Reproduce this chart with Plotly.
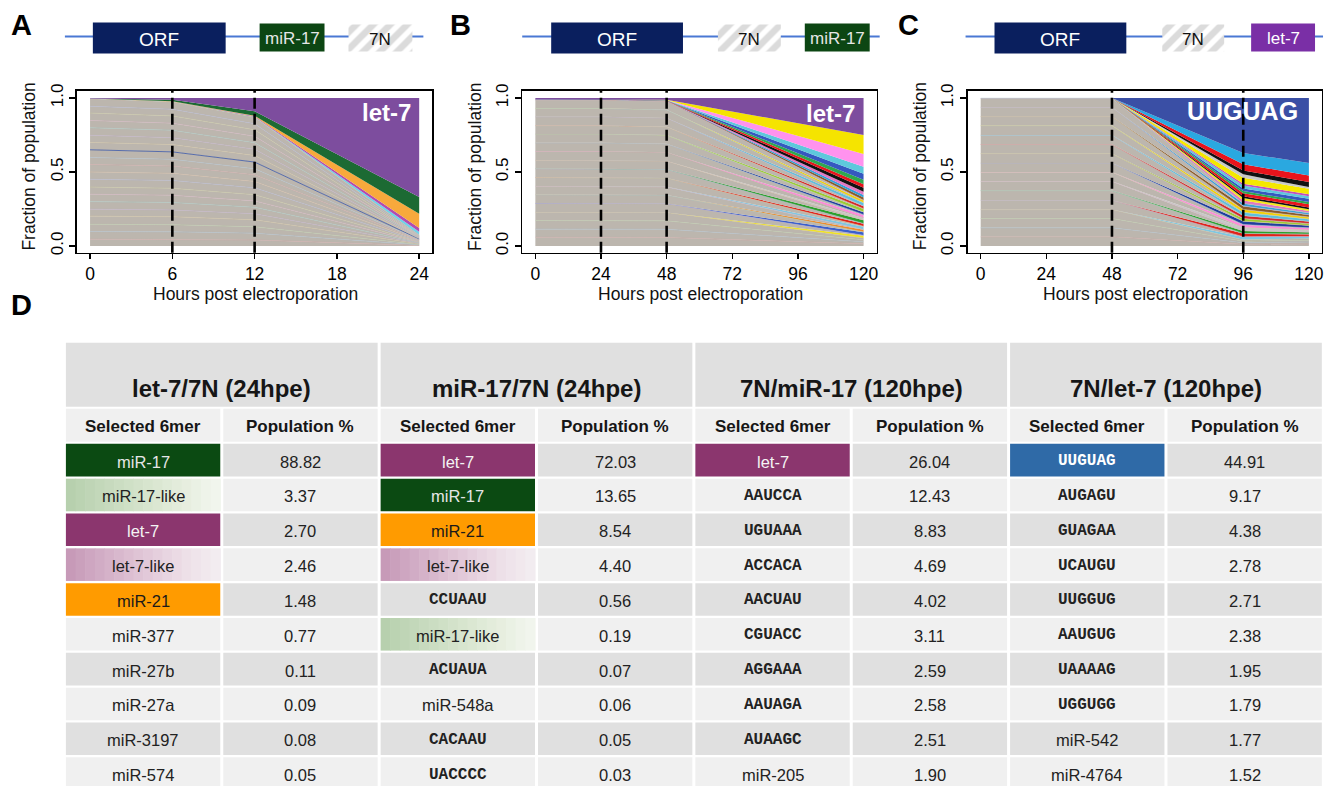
import plotly.graph_objects as go

W, H = 1339, 786
SANS = "Liberation Sans, Arial, Helvetica, sans-serif"
MONO = "Liberation Mono, Courier New, monospace"

# ============================ DATA ============================
# ---- Panel A (sampled 0, 6, 12, 24 h) ----
hours_A = [0, 6, 12, 24]
A_let7 = [0.004, 0.012, 0.090, 0.669]
A_mir17 = [0.000, 0.010, 0.030, 0.113]
A_mir21 = [0.000, 0.001, 0.004, 0.097]
A_let7_like = [0.000, 0.001, 0.002, 0.025]
A_minor = [0.001, 0.002, 0.004, 0.022]
A_background = [
    [0.046, 0.045, 0.041, 0.004], [0.052, 0.051, 0.046, 0.004],
    [0.049, 0.048, 0.043, 0.003], [0.055, 0.054, 0.047, 0.004],
    [0.047, 0.046, 0.041, 0.004], [0.051, 0.050, 0.044, 0.003],
    [0.050, 0.049, 0.043, 0.004], [0.048, 0.047, 0.042, 0.003],
    [0.053, 0.053, 0.046, 0.004], [0.049, 0.048, 0.043, 0.004],
    [0.051, 0.049, 0.045, 0.004], [0.047, 0.046, 0.041, 0.003],
    [0.052, 0.050, 0.045, 0.004], [0.050, 0.049, 0.044, 0.003],
    [0.048, 0.047, 0.042, 0.004], [0.051, 0.050, 0.045, 0.004],
    [0.049, 0.048, 0.043, 0.003], [0.050, 0.049, 0.044, 0.004],
    [0.046, 0.045, 0.041, 0.004], [0.051, 0.050, 0.044, 0.004],
]

# ---- Panel B (sampled 0, 24, 48, 120 h) ----
hours_B = [0, 24, 48, 120]
B_let7 = [0.010, 0.010, 0.012, 0.250]
B_yellow = [0.000, 0.000, 0.001, 0.128]
B_pink = [0.000, 0.000, 0.001, 0.086]
B_cyan = [0.000, 0.000, 0.001, 0.048]
B_blue = [0.000, 0.000, 0.001, 0.041]
B_green = [0.000, 0.000, 0.001, 0.029]
B_red = [0.000, 0.000, 0.001, 0.025]
B_black = [0.000, 0.000, 0.001, 0.027]
B_minor = [
    [0.001, 0.001, 0.001, 0.016], [0.001, 0.001, 0.001, 0.021],
    [0.001, 0.001, 0.001, 0.015], [0.001, 0.001, 0.001, 0.019],
    [0.001, 0.001, 0.001, 0.017], [0.001, 0.001, 0.001, 0.022],
    [0.001, 0.001, 0.001, 0.014], [0.001, 0.001, 0.001, 0.018],
    [0.001, 0.001, 0.001, 0.016], [0.001, 0.001, 0.001, 0.020],
    [0.001, 0.001, 0.001, 0.017], [0.001, 0.001, 0.001, 0.019],
    [0.001, 0.001, 0.001, 0.015], [0.001, 0.001, 0.001, 0.018],
    [0.001, 0.001, 0.001, 0.017], [0.001, 0.001, 0.001, 0.022],
]
B_background = [
    [0.059, 0.059, 0.058, 0.015], [0.055, 0.055, 0.055, 0.014],
    [0.058, 0.058, 0.057, 0.013], [0.056, 0.056, 0.056, 0.012],
    [0.060, 0.060, 0.059, 0.002], [0.057, 0.057, 0.057, 0.002],
    [0.055, 0.055, 0.054, 0.002], [0.059, 0.059, 0.059, 0.002],
    [0.058, 0.058, 0.057, 0.002], [0.056, 0.056, 0.056, 0.002],
    [0.059, 0.059, 0.058, 0.002], [0.057, 0.057, 0.056, 0.002],
    [0.058, 0.058, 0.058, 0.002], [0.056, 0.056, 0.055, 0.002],
    [0.059, 0.059, 0.058, 0.002], [0.055, 0.055, 0.055, 0.002],
    [0.057, 0.057, 0.057, 0.002],
]

# ---- Panel C (sampled 0, 48, 96, 120 h) ----
hours_C = [0, 48, 96, 120]
C_uuguag = [0.000, 0.000, 0.372, 0.439]
C_lightblue = [0.000, 0.000, 0.076, 0.084]
C_red = [0.000, 0.000, 0.041, 0.045]
C_black = [0.000, 0.000, 0.027, 0.033]
C_lightgray = [0.000, 0.000, 0.022, 0.012]
C_yellow = [0.000, 0.000, 0.041, 0.038]
C_magenta = [0.000, 0.000, 0.012, 0.013]
C_cyan = [0.000, 0.000, 0.020, 0.016]
C_blue = [0.000, 0.000, 0.018, 0.023]
C_green = [0.000, 0.000, 0.014, 0.015]
C_red2 = [0.000, 0.000, 0.020, 0.022]
C_black2 = [0.000, 0.000, 0.012, 0.012]
C_minor = [
    [0.001, 0.001, 0.019, 0.013], [0.001, 0.001, 0.021, 0.014],
    [0.001, 0.001, 0.017, 0.012], [0.001, 0.001, 0.020, 0.013],
    [0.001, 0.001, 0.018, 0.012], [0.001, 0.001, 0.022, 0.015],
    [0.001, 0.001, 0.016, 0.011], [0.001, 0.001, 0.019, 0.013],
    [0.001, 0.001, 0.020, 0.014], [0.001, 0.001, 0.018, 0.012],
    [0.001, 0.001, 0.021, 0.014], [0.001, 0.001, 0.017, 0.011],
    [0.001, 0.001, 0.019, 0.013], [0.001, 0.001, 0.018, 0.011],
]
C_background = [
    [0.062, 0.062, 0.012, 0.014], [0.061, 0.061, 0.011, 0.013],
    [0.063, 0.063, 0.010, 0.012], [0.060, 0.060, 0.009, 0.011],
    [0.062, 0.062, 0.002, 0.002], [0.064, 0.064, 0.001, 0.002],
    [0.061, 0.061, 0.002, 0.001], [0.062, 0.062, 0.001, 0.002],
    [0.060, 0.060, 0.002, 0.002], [0.063, 0.063, 0.001, 0.001],
    [0.061, 0.061, 0.002, 0.002], [0.062, 0.062, 0.001, 0.002],
    [0.063, 0.063, 0.002, 0.001], [0.060, 0.060, 0.001, 0.002],
    [0.062, 0.062, 0.002, 0.002], [0.060, 0.060, 0.001, 0.001],
]

# ---- Table D ----
group_titles = ["let-7/7N (24hpe)", "miR-17/7N (24hpe)", "7N/miR-17 (120hpe)", "7N/let-7 (120hpe)"]
sub_titles = ["Selected 6mer", "Population %"]
t1_names = ["miR-17", "miR-17-like", "let-7", "let-7-like", "miR-21", "miR-377", "miR-27b", "miR-27a", "miR-3197", "miR-574"]
t1_pct = [88.82, 3.37, 2.70, 2.46, 1.48, 0.77, 0.11, 0.09, 0.08, 0.05]
t2_names = ["let-7", "miR-17", "miR-21", "let-7-like", "CCUAAU", "miR-17-like", "ACUAUA", "miR-548a", "CACAAU", "UACCCC"]
t2_pct = [72.03, 13.65, 8.54, 4.40, 0.56, 0.19, 0.07, 0.06, 0.05, 0.03]
t3_names = ["let-7", "AAUCCA", "UGUAAA", "ACCACA", "AACUAU", "CGUACC", "AGGAAA", "AAUAGA", "AUAAGC", "miR-205"]
t3_pct = [26.04, 12.43, 8.83, 4.69, 4.02, 3.11, 2.59, 2.58, 2.51, 1.90]
t4_names = ["UUGUAG", "AUGAGU", "GUAGAA", "UCAUGU", "UUGGUG", "AAUGUG", "UAAAAG", "UGGUGG", "miR-542", "miR-4764"]
t4_pct = [44.91, 9.17, 4.38, 2.78, 2.71, 2.38, 1.95, 1.79, 1.77, 1.52]

# ============================ STYLE ============================
GRAY = "#bcb6ae"
PASTEL = ["#cfaaa8", "#aebfcc", "#bccbab", "#d0c3a2", "#c0b0c8", "#aac8c2",
          "#d2b3c0", "#c9c8a4", "#b3b7d0", "#d4bca6"]
MINOR_COLORS = ["#f2e51d", "#3a5fcd", "#f08c2a", "#7ec8e3", "#e2231a", "#2ca02c",
                "#c8c8c8", "#ff88dd", "#1f3f9e", "#9acd32", "#d62728", "#5bc0de",
                "#f7d000", "#8b5a2b", "#34a0d8", "#e377c2"]

fig = go.Figure()


def stack(xa, ya, group, hours, bands):
    for vals, fill, lc, lw in bands:
        fig.add_trace(go.Scatter(
            x=hours, y=vals, xaxis=xa, yaxis=ya, stackgroup=group, mode="lines",
            line=dict(color=lc, width=lw), fillcolor=fill,
            hoverinfo="skip", showlegend=False))


def interleave(bg, minor, n_bottom):
    order = [("bg", i) for i in range(n_bottom)]
    bi, mi = n_bottom, 0
    while bi < len(bg) or mi < len(minor):
        if mi < len(minor):
            order.append(("mi", mi)); mi += 1
        if bi < len(bg):
            order.append(("bg", bi)); bi += 1
    return order


# ---- Panel A ----
bandsA = []
for i, row in enumerate(A_background):
    lc = "#4a62a8" if i == 12 else PASTEL[i % len(PASTEL)]
    bandsA.append((row, GRAY, lc, 0.9 if i == 12 else 0.6))
bandsA += [(A_minor, "#6fd3ea", "#6fd3ea", 0),
           (A_let7_like, "#b24cb0", "#b24cb0", 0),
           (A_mir21, "#f8a93c", "#f8a93c", 0),
           (A_mir17, "#1c6a33", "#1c6a33", 0),
           (A_let7, "#7d4d9e", "#7d4d9e", 0)]
stack("x", "y", "A", hours_A, bandsA)

# ---- Panel B ----
bandsB = []
for kind, i in interleave(B_background, B_minor, 4):
    if kind == "bg":
        bandsB.append((B_background[i], GRAY, PASTEL[i % len(PASTEL)], 0.6))
    else:
        c = MINOR_COLORS[i % len(MINOR_COLORS)]
        bandsB.append((B_minor[i], c, c, 0))
bandsB += [(B_black, "#111111", "#111111", 0),
           (B_red, "#e8141c", "#e8141c", 0),
           (B_green, "#2fa84f", "#2fa84f", 0),
           (B_blue, "#3558c0", "#3558c0", 0),
           (B_cyan, "#5ec8dc", "#5ec8dc", 0),
           (B_pink, "#ff92ee", "#ff92ee", 0),
           (B_yellow, "#f5e400", "#f5e400", 0),
           (B_let7, "#7d4d9e", "#7d4d9e", 0)]
stack("x2", "y2", "B", hours_B, bandsB)

# ---- Panel C ----
bandsC = []
for kind, i in interleave(C_background, C_minor, 4):
    if kind == "bg":
        bandsC.append((C_background[i], GRAY, PASTEL[i % len(PASTEL)], 0.6))
    else:
        c = MINOR_COLORS[(i + 3) % len(MINOR_COLORS)]
        bandsC.append((C_minor[i], c, c, 0))
bandsC += [(C_black2, "#111111", "#111111", 0),
           (C_red2, "#e8141c", "#e8141c", 0),
           (C_green, "#2fa84f", "#2fa84f", 0),
           (C_blue, "#3558c0", "#3558c0", 0),
           (C_cyan, "#5ec8dc", "#5ec8dc", 0),
           (C_magenta, "#c050c0", "#c050c0", 0),
           (C_yellow, "#f5e800", "#f5e800", 0),
           (C_lightgray, "#c8c8c8", "#c8c8c8", 0),
           (C_black, "#111111", "#111111", 0),
           (C_red, "#e8141c", "#e8141c", 0),
           (C_lightblue, "#2aa8e0", "#2aa8e0", 0),
           (C_uuguag, "#3a4fa5", "#3a4fa5", 0)]
stack("x3", "y3", "C", hours_C, bandsC)


# vertical placement helper (pixel row of the target picture -> paper fraction)
Y_SHIFT, Y_SCALE = 7.5, 0.9865


def px(x):
    return x / W


def py(y):
    return 1 - ((y - Y_SHIFT) / Y_SCALE) / H


# ---- construct diagrams (pixel-space helper axes x4/y4) ----
BACKBONE_Y = 37
CONSTRUCTS = [
    ((65, 424), [("ORF", 93, 226, "orf"), ("miR-17", 260, 325, "mir17"), ("7N", 349, 413, "hatch")]),
    ((523, 881), [("ORF", 552, 684, "orf"), ("7N", 719, 782, "hatch"), ("miR-17", 806, 871, "mir17")]),
    ((967, 1325), [("ORF", 996, 1128, "orf"), ("7N", 1164, 1226, "hatch"), ("let-7", 1253, 1317, "let7")]),
]
BOX_STYLE = {
    "orf": dict(fill="#0a1f5e", y=(23, 54), font=19, color="white"),
    "mir17": dict(fill="#0c4613", y=(24, 52), font=17, color="#e6e6e6"),
    "let7": dict(fill="#7a2fa6", y=(24, 52), font=17, color="white"),
    "hatch": dict(fill="white", y=(25, 52), font=17, color="#111111"),
}
annotations = []
for (l, r), elements in CONSTRUCTS:
    fig.add_trace(go.Scatter(x=[l, r], y=[BACKBONE_Y, BACKBONE_Y], xaxis="x4", yaxis="y4",
                             mode="lines", line=dict(color="#4a78d4", width=2),
                             hoverinfo="skip", showlegend=False))
    for label, x0, x1, kind in elements:
        st = BOX_STYLE[kind]
        y0, y1 = st["y"]
        kw = dict(fillcolor=st["fill"])
        if kind == "hatch":
            kw["fillpattern"] = dict(shape="/", fgcolor="#b8b8b8", bgcolor="white",
                                     size=12, solidity=0.55)
        fig.add_trace(go.Scatter(x=[x0, x1, x1, x0, x0], y=[y0, y0, y1, y1, y0],
                                 xaxis="x4", yaxis="y4", mode="lines", fill="toself",
                                 line=dict(width=0, color=st["fill"]), hoverinfo="skip",
                                 showlegend=False, **kw))
        annotations.append(dict(x=(x0 + x1) / 2, y=(y0 + y1) / 2 + 1, xref="x4", yref="y4",
                                xanchor="center", yanchor="middle",
                                text=label, showarrow=False,
                                font=dict(family=SANS, size=st["font"], color=st["color"])))

# ---- axes ----
FRAMES = [(77, 433), (523, 878), (969, 1324)]
FRAME_Y = (91, 253)
XR = [[-0.96, 24.96], [-4.8, 124.8], [-4.8, 124.8]]
XT = [[0, 6, 12, 18, 24], [0, 24, 48, 72, 96, 120], [0, 24, 48, 72, 96, 120]]
layout_axes = {}
for k, ((fx0, fx1), rng, tv) in enumerate(zip(FRAMES, XR, XT)):
    sfx = "" if k == 0 else str(k + 1)
    layout_axes["xaxis" + sfx] = dict(
        domain=[px(fx0), px(fx1)], range=rng, anchor="y" + sfx, tickvals=tv,
        ticktext=[str(t) for t in tv], showline=True, mirror=True, linecolor="black",
        linewidth=1.4, ticks="outside", ticklen=5, tickwidth=1.4, tickcolor="black",
        showgrid=False, zeroline=False, fixedrange=True,
        tickfont=dict(family=SANS, size=17.5, color="black"))
    layout_axes["yaxis" + sfx] = dict(
        domain=[py(FRAME_Y[1]), py(FRAME_Y[0])], range=[-0.045, 1.05], anchor="x" + sfx,
        tickvals=[0, 0.5, 1], ticktext=["0.0", "0.5", "1.0"], tickangle=-90,
        showline=True, mirror=True, linecolor="black", linewidth=1.4, ticks="outside",
        ticklen=6, tickwidth=1.4, tickcolor="black", showgrid=False, zeroline=False,
        fixedrange=True, tickfont=dict(family=SANS, size=17, color="black"))
    # axis titles
    annotations.append(dict(x=px(fx0 + (fx1 - fx0) / 2 + 1), y=py(294.5), xref="paper", yref="paper",
                            xanchor="center", yanchor="middle",
                            text="Hours post electroporation", showarrow=False,
                            font=dict(family=SANS, size=17.5, color="#111111")))
    annotations.append(dict(x=px(fx0 - 48), y=py(167), xref="paper", yref="paper",
                            xanchor="center", yanchor="middle",
                            text="Fraction of population", textangle=-90, showarrow=False,
                            font=dict(family=SANS, size=17.5, color="#111111")))

layout_axes["xaxis4"] = dict(domain=[0, 1], range=[0, W], visible=False, fixedrange=True, anchor="y4")
layout_axes["yaxis4"] = dict(domain=[py(70), py(8)], range=[70, 8], visible=False, fixedrange=True, anchor="x4")

# dashed time-point lines
shapes = []
DASHES = [("x", "y", [6, 12]), ("x2", "y2", [24, 48]), ("x3", "y3", [48, 96])]
for xa, ya, xs in DASHES:
    for xv in xs:
        shapes.append(dict(type="line", xref=xa, yref=ya + " domain", x0=xv, x1=xv, y0=0, y1=1,
                           line=dict(color="black", width=2.6, dash="11px,5px")))

# in-plot labels
for xa, ya, xv, yv, txt in [("x", "y", 21.6, 0.905, "let-7"), ("x2", "y2", 107.9, 0.895, "let-7"),
                            ("x3", "y3", 95.9, 0.91, "UUGUAG")]:
    annotations.append(dict(x=xv, y=yv, xref=xa, yref=ya, text="<b>%s</b>" % txt, showarrow=False,
                            xanchor="center", yanchor="middle",
                            font=dict(family=SANS, size=25 if txt == "UUGUAG" else 24, color="white")))

# panel letters
for lab, x, y in [("A", 22, 25), ("B", 461, 25), ("C", 910, 25), ("D", 22, 305)]:
    annotations.append(dict(x=px(x), y=py(y), xref="paper", yref="paper", text="<b>%s</b>" % lab,
                            xanchor="center", yanchor="middle",
                            showarrow=False, font=dict(family=SANS, size=29, color="black")))

# ---- table D ----
TX0, CPITCH, CW = 66, 157.6, 154.6
GROUP_Y = (343, 407)
SUB_Y = (409, 442)
RY0, RPITCH, RH = 444, 34.8, 32.6
DARK, LIGHT = "#e0e0e0", "#f0f0f0"
SPECIAL = {
    "miR-17": ("#0b4a12", "#e6e6e6"),
    "let-7": ("#8b366e", "#f4f4f4"),
    "miR-21": ("#ff9b00", "#1a1a1a"),
    "UUGUAG": ("#2f6aa7", "#ffffff"),
}
GRADIENTS = {
    "miR-17-like": ["#b7d0ae", "#bbd3b2", "#bfd5b6", "#c3d8ba", "#c7dabe", "#cbddc2",
                    "#cfe0c6", "#d3e2ca", "#d7e5ce", "#dbe7d2", "#dfead7", "#e3ecdb",
                    "#e7eedf", "#eaf1e4", "#eef3e9", "#f1f5ed"],
    "let-7-like": ["#c79ab8", "#caa0bc", "#cea6c1", "#d1acc5", "#d5b2c9", "#d8b8cd",
                   "#dcbed1", "#dfc4d5", "#e2c9d9", "#e5cfdd", "#e8d5e1", "#ebdae4",
                   "#ede0e8", "#efe4eb", "#f1e8ed", "#f2ecf0"],
}


def rect(x0, y0, x1, y1, color):
    shapes.append(dict(type="rect", xref="paper", yref="paper", x0=px(x0), x1=px(x1),
                       y0=py(y1), y1=py(y0), fillcolor=color, line=dict(width=0), layer="above"))


def text(x, y, s, size, color="#1f1f1f", family=SANS):
    annotations.append(dict(x=px(x), y=py(y), xref="paper", yref="paper", text=s, showarrow=False,
                            xanchor="center", yanchor="middle",
                            font=dict(family=family, size=size, color=color)))


is_seq = lambda s: len(s) == 6 and set(s) <= set("ACGU")
tables = [(t1_names, t1_pct), (t2_names, t2_pct), (t3_names, t3_pct), (t4_names, t4_pct)]
for g, (names, pcts) in enumerate(tables):
    gx0 = TX0 + 2 * g * CPITCH
    gx1 = gx0 + CPITCH + CW
    rect(gx0, GROUP_Y[0], gx1, GROUP_Y[1], DARK)
    text((gx0 + gx1) / 2, 389, "<b>%s</b>" % group_titles[g], 24, "#161616")
    for j in range(2):
        cx0 = gx0 + j * CPITCH
        rect(cx0, SUB_Y[0], cx0 + CW, SUB_Y[1], LIGHT)
        text(cx0 + CW / 2, (SUB_Y[0] + SUB_Y[1]) / 2 + 1, "<b>%s</b>" % sub_titles[j], 17, "#161616")
    for r, (nm, pc) in enumerate(zip(names, pcts)):
        y0 = RY0 + r * RPITCH
        y1 = y0 + RH
        base = DARK if r % 2 == 0 else LIGHT
        nx0 = gx0
        tcol = "#222222"
        if nm in GRADIENTS:
            cols = GRADIENTS[nm]
            sw = CW / len(cols)
            for k, c in enumerate(cols):
                rect(nx0 + k * sw, y0, nx0 + (k + 1) * sw + 0.6, y1, c)
        elif nm in SPECIAL:
            rect(nx0, y0, nx0 + CW, y1, SPECIAL[nm][0])
            tcol = SPECIAL[nm][1]
        else:
            rect(nx0, y0, nx0 + CW, y1, base)
        if is_seq(nm):
            text(nx0 + CW / 2, (y0 + y1) / 2 + 1, "<b>%s</b>" % nm, 16, tcol, MONO)
        else:
            text(nx0 + CW / 2, (y0 + y1) / 2 + 1.5, nm, 16.5, tcol)
        vx0 = gx0 + CPITCH
        rect(vx0, y0, vx0 + CW, y1, base)
        text(vx0 + CW / 2, (y0 + y1) / 2 + 1.5, "%.2f" % pc, 16.5, "#222222")

fig.update_layout(
    width=W, height=H, autosize=False, margin=dict(l=0, r=0, t=0, b=0, pad=0),
    paper_bgcolor="white", plot_bgcolor="white", showlegend=False,
    shapes=shapes, annotations=annotations, hovermode=False, **layout_axes)

PAGE_FIX = ("var s=document.createElement('style');"
            "s.innerHTML='html,body{margin:0 !important;padding:0 !important;overflow:hidden;}"
            ".plotly-graph-div{display:block;}';"
            "document.head.appendChild(s);")
fig.write_html("out.html", config={"displayModeBar": False, "staticPlot": True},
               post_script=PAGE_FIX)
